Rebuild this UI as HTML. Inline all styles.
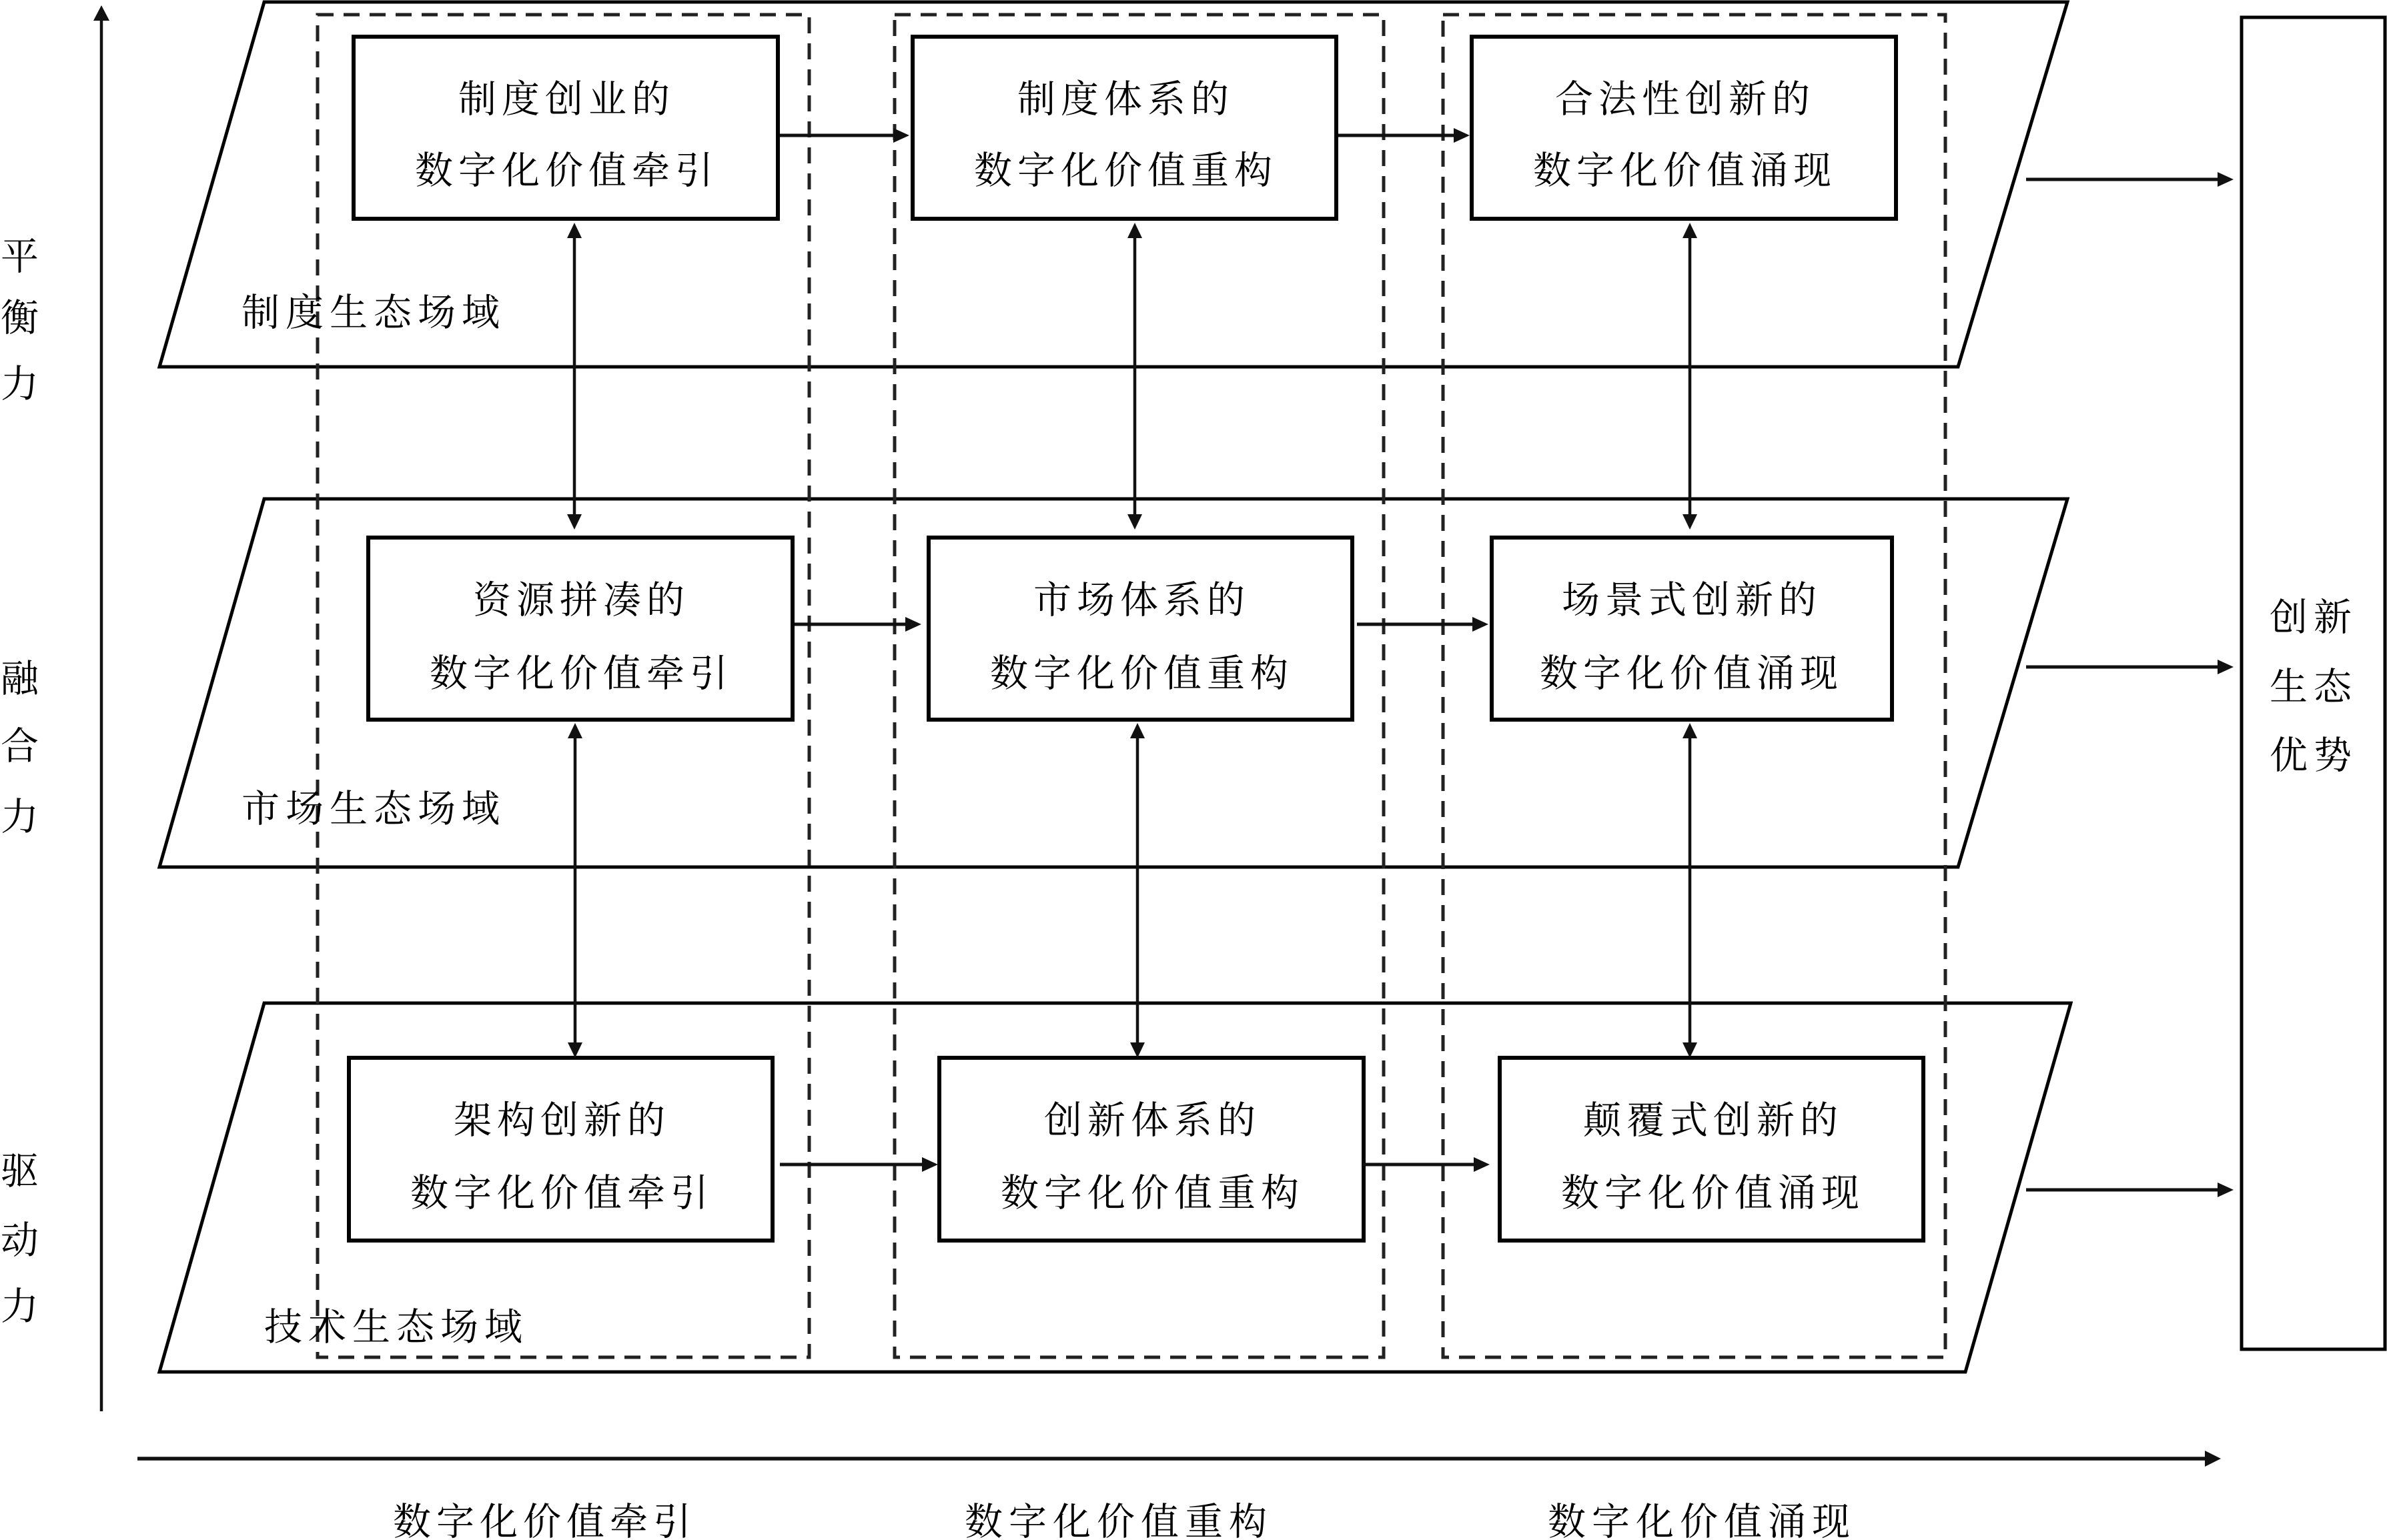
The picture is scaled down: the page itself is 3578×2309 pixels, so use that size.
<!DOCTYPE html>
<html>
<head>
<meta charset="utf-8">
<style>
html,body{margin:0;padding:0;background:#fff;}
svg{display:block;}
text{font-family:"Liberation Serif","Noto Serif CJK SC",serif;font-size:57px;fill:#000;}
</style>
</head>
<body>
<svg width="3578" height="2309" viewBox="0 0 3578 2309" xmlns="http://www.w3.org/2000/svg">
<rect width="3578" height="2309" fill="#fff"/>

<!-- Axes -->
<line x1="152" y1="2116" x2="152" y2="28" stroke="#111" stroke-width="4.5"/>
<polygon points="152,8 140,31 164,31" fill="#111"/>
<line x1="206" y1="2187" x2="3308" y2="2187" stroke="#111" stroke-width="5.5"/>
<polygon points="3329,2187 3305,2175 3305,2199" fill="#111"/>

<!-- Parallelograms -->
<polygon points="396,3 3099,3 2935,550 239,550" fill="none" stroke="#000" stroke-width="5"/>
<polygon points="396,748 3099,748 2935,1300 239,1300" fill="none" stroke="#000" stroke-width="5"/>
<polygon points="396,1504 3104,1504 2946,2057 239,2057" fill="none" stroke="#000" stroke-width="5"/>

<!-- Dashed column boxes -->
<rect x="476" y="22" width="737" height="2013" fill="none" stroke="#222" stroke-width="5" stroke-dasharray="24 15"/>
<rect x="1341" y="22" width="733" height="2013" fill="none" stroke="#222" stroke-width="5" stroke-dasharray="24 15"/>
<rect x="2163" y="22" width="753" height="2013" fill="none" stroke="#222" stroke-width="5" stroke-dasharray="24 15"/>

<!-- Right box -->
<rect x="3360" y="26" width="215" height="1997" fill="#fff" stroke="#000" stroke-width="5"/>

<!-- Inner boxes -->
<g fill="#fff" stroke="#000" stroke-width="6">
<rect x="530" y="55" width="636" height="273"/>
<rect x="1368" y="55" width="635" height="273"/>
<rect x="2206" y="55" width="636" height="273"/>
<rect x="552" y="806" width="636" height="273"/>
<rect x="1392" y="806" width="635" height="273"/>
<rect x="2236" y="806" width="600" height="273"/>
<rect x="523" y="1586" width="635" height="274"/>
<rect x="1408" y="1586" width="636" height="274"/>
<rect x="2248" y="1586" width="635" height="274"/>
</g>

<!-- Horizontal arrows -->
<g stroke="#111" stroke-width="5">
<line x1="1169" y1="203" x2="1343" y2="203"/>
<line x1="2006" y1="203" x2="2183" y2="203"/>
<line x1="1191" y1="936" x2="1361" y2="936"/>
<line x1="2034" y1="936" x2="2211" y2="936"/>
<line x1="1169" y1="1746" x2="1386" y2="1746"/>
<line x1="2042" y1="1746" x2="2213" y2="1746"/>
<line x1="3037" y1="269" x2="3328" y2="269"/>
<line x1="3037" y1="1000" x2="3328" y2="1000"/>
<line x1="3037" y1="1784" x2="3328" y2="1784"/>
</g>
<g fill="#111">
<polygon points="1363,203 1339,192 1339,214"/>
<polygon points="2203,203 2179,192 2179,214"/>
<polygon points="1381,936 1357,925 1357,947"/>
<polygon points="2231,936 2207,925 2207,947"/>
<polygon points="1406,1746 1382,1735 1382,1757"/>
<polygon points="2233,1746 2209,1735 2209,1757"/>
<polygon points="3348,269 3324,258 3324,280"/>
<polygon points="3348,1000 3324,989 3324,1011"/>
<polygon points="3348,1784 3324,1773 3324,1795"/>
</g>

<!-- Vertical double arrows -->
<g stroke="#111" stroke-width="4.5">
<line x1="861" y1="352" x2="861" y2="776"/>
<line x1="862" y1="1102" x2="862" y2="1568"/>
<line x1="1701" y1="352" x2="1701" y2="776"/>
<line x1="1705" y1="1102" x2="1705" y2="1568"/>
<line x1="2533" y1="352" x2="2533" y2="776"/>
<line x1="2533" y1="1102" x2="2533" y2="1568"/>
</g>
<g fill="#111">
<polygon points="861,334 850,357 872,357"/>
<polygon points="861,794 850,771 872,771"/>
<polygon points="862,1084 851,1107 873,1107"/>
<polygon points="862,1586 851,1563 873,1563"/>
<polygon points="1701,334 1690,357 1712,357"/>
<polygon points="1701,794 1690,771 1712,771"/>
<polygon points="1705,1084 1694,1107 1716,1107"/>
<polygon points="1705,1586 1694,1563 1716,1563"/>
<polygon points="2533,334 2522,357 2544,357"/>
<polygon points="2533,794 2522,771 2544,771"/>
<polygon points="2533,1084 2522,1107 2544,1107"/>
<polygon points="2533,1586 2522,1563 2544,1563"/>
</g>

<!-- Box texts -->
<text x="687 752 817 882 947" y="168">制度创业的</text>
<text x="622 687 752 817 882 947 1012" y="275">数字化价值牵引</text>

<text x="1525 1590 1655 1720 1785" y="168">制度体系的</text>
<text x="1460 1525 1590 1655 1720 1785 1850" y="275">数字化价值重构</text>

<text x="2331 2396 2461 2526 2591 2656" y="168">合法性创新的</text>
<text x="2298 2363 2428 2493 2558 2623 2688" y="275">数字化价值涌现</text>

<text x="709 774 839 904 969" y="919">资源拼凑的</text>
<text x="644 709 774 839 904 969 1034" y="1029">数字化价值牵引</text>

<text x="1549 1614 1679 1744 1809" y="919">市场体系的</text>
<text x="1484 1549 1614 1679 1744 1809 1874" y="1029">数字化价值重构</text>

<text x="2341 2406 2471 2536 2601 2666" y="919">场景式创新的</text>
<text x="2308 2373 2438 2503 2568 2633 2698" y="1029">数字化价值涌现</text>

<text x="680 745 810 875 940" y="1699">架构创新的</text>
<text x="615 680 745 810 875 940 1005" y="1808">数字化价值牵引</text>

<text x="1565 1630 1695 1760 1825" y="1699">创新体系的</text>
<text x="1500 1565 1630 1695 1760 1825 1890" y="1808">数字化价值重构</text>

<text x="2373 2438 2503 2568 2633 2698" y="1699">颠覆式创新的</text>
<text x="2340 2405 2470 2535 2600 2665 2730" y="1808">数字化价值涌现</text>

<!-- Field labels -->
<text x="362 428 494 560 626 692" y="488">制度生态场域</text>
<text x="362 428 494 560 626 692" y="1232">市场生态场域</text>
<text x="396 462 528 594 660 726" y="2009">技术生态场域</text>

<!-- Left labels -->
<text x="1" y="404">平</text>
<text x="1" y="496">衡</text>
<text x="1" y="595">力</text>
<text x="1" y="1037">融</text>
<text x="1" y="1138">合</text>
<text x="1" y="1244">力</text>
<text x="1" y="1775">驱</text>
<text x="1" y="1879">动</text>
<text x="1" y="1978">力</text>

<!-- Right box labels -->
<text x="3402 3468" y="945">创新</text>
<text x="3402 3468" y="1049">生态</text>
<text x="3402 3468" y="1152">优势</text>

<!-- Bottom labels -->
<text x="589 654 719 784 849 914 979" y="2301">数字化价值牵引</text>
<text x="1446 1512 1578 1644 1710 1776 1842" y="2301">数字化价值重构</text>
<text x="2320 2386 2452 2518 2584 2650 2716" y="2301">数字化价值涌现</text>
</svg>
</body>
</html>
